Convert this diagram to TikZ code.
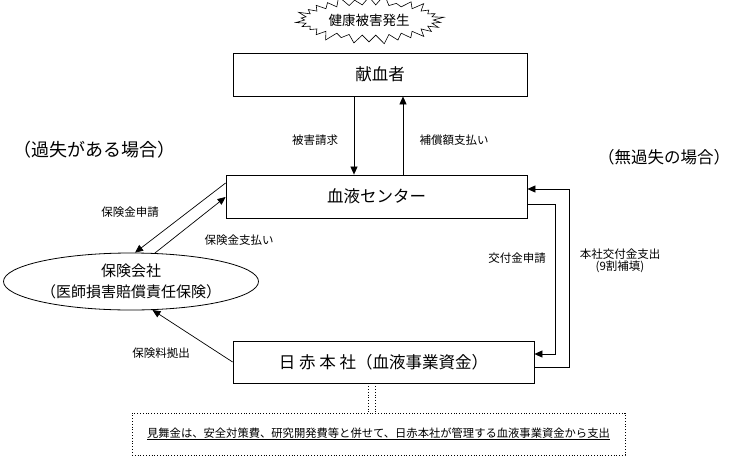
\documentclass[tikz,border=0pt]{standalone}
\usepackage{fontspec}
\setmainfont{Noto Sans CJK JP}
\usetikzlibrary{arrows.meta,shapes.geometric,shapes.symbols}
\begin{document}
\begin{tikzpicture}[x=1pt,y=-1pt,
  box/.style={draw, line width=0.8pt, inner sep=0pt, font=\fontsize{16.5}{20}\selectfont},
  arr/.style={line width=0.7pt, -{Triangle[length=8pt,width=7pt]}},
  lbl/.style={inner sep=0pt, align=center, font=\fontsize{11.5}{12.5}\selectfont},
  head/.style={inner sep=0pt},
  dotline/.style={dotted, line width=0.8pt}]
\useasboundingbox (0,0) rectangle (731,458);

% coordinates used for connector routing
\coordinate (c354) at (354,0);
\coordinate (c403) at (403,0);
\coordinate (c555) at (555,0);
\coordinate (c569) at (569,0);
\coordinate (c368) at (368,0);
\coordinate (c375) at (375,0);
\coordinate (r183) at (0,183);
\coordinate (r197) at (0,197);
\coordinate (r204) at (0,204);
\coordinate (r354) at (0,354);
\coordinate (r367) at (0,367);
\coordinate (r189) at (0,189);

% starburst
\node[starburst, draw, line width=0.6pt, starburst points=30, starburst point height=11pt,
      inner xsep=5pt, inner ysep=4.5pt,
      font=\fontsize{13.5}{16}\selectfont] (burst) at (369,20) {健康被害発生};

% boxes
\node[box, minimum width=294pt, minimum height=43pt] (donor) at (380,74.5) {献血者};
\node[box, minimum width=301pt, minimum height=43pt] (center) at (376.5,196.5) {血液センター};
\node[box, minimum width=301pt, minimum height=42pt] (hq) at (383.5,362) {日 赤 本 社（血液事業資金）};
\node[draw, ellipse, line width=0.8pt, inner sep=0pt, minimum width=255pt, minimum height=57pt,
      align=center, font=\fontsize{15}{21}\selectfont] (ins) at (131,281.5) {保険会社\\（医師損害賠償責任保険）};
\node[draw, dotline, minimum width=493pt, minimum height=42pt, inner sep=0pt,
      font=\fontsize{11.3}{13}\selectfont] (note) at (378.5,434)
      {\underline{見舞金は、安全対策費、研究開発費等と併せて、日赤本社が管理する血液事業資金から支出}};

% headings
\node[head, font=\fontsize{18}{20}\selectfont] (h1) at (94.5,150) {（過失がある場合）};
\node[head, font=\fontsize{16.5}{20}\selectfont] (h2) at (664,157) {（無過失の場合）};

% donor <-> center
\draw[arr] (donor.south -| c354) -- (center.north -| c354);
\draw[arr] (center.north -| c403) -- (donor.south -| c403);
\node[lbl] (l1) at (315,140) {被害請求};
\node[lbl] (l2) at (454,140) {補償額支払い};

% center <-> insurance
\draw[arr] (center.west |- r183) -- (ins.82);
\draw[arr] (ins.50.6) -- (center.west |- r197);
\node[lbl] (l3) at (130,212) {保険金申請};
\node[lbl] (l4) at (239,240) {保険金支払い};

% hq -> insurance
\draw[arr] (hq.west) -- (ins.-53);
\node[lbl] (l5) at (161,353) {保険料拠出};

% center <-> hq (right side)
\draw[arr] (center.east |- r204) -| (c555 |- r354) -- (hq.east |- r354);
\draw[arr] (hq.east |- r367) -| (c569 |- r189) -- (center.east |- r189);
\node[lbl] (l6) at (517,258) {交付金申請};
\node[lbl] (l7) at (620,261) {本社交付金支出\\(9割補填)};

% hq to note (double dotted)
\draw[dotline] (hq.south -| c368) -- (note.north -| c368);
\draw[dotline] (hq.south -| c375) -- (note.north -| c375);
\end{tikzpicture}
\end{document}
